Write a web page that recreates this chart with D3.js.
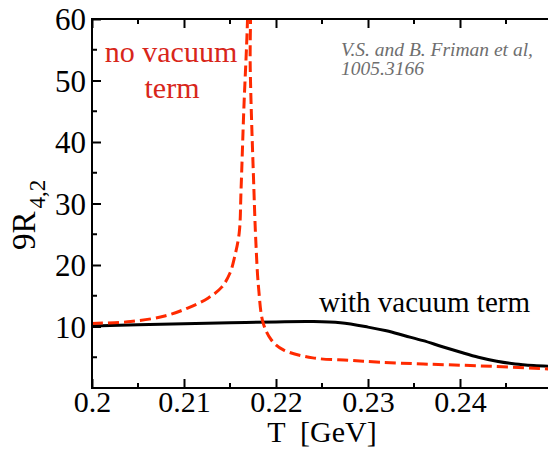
<!DOCTYPE html>
<html>
<head>
<meta charset="utf-8">
<script src="https://cdn.jsdelivr.net/npm/d3@7"></script>
</head>
<body style="margin:0">
<div class="chart"></div>
<script>
// curve with vacuum term (black, solid)
const withVacT = [0.2000, 0.2050, 0.2100, 0.2150, 0.2200, 0.2240, 0.2270, 0.2300, 0.2320, 0.2340, 0.2360, 0.2380, 0.2400, 0.2420, 0.2440, 0.2460, 0.2480, 0.2500]
const withVacV = [10.1, 10.3, 10.45, 10.6, 10.75, 10.8, 10.6, 9.9, 9.3, 8.5, 7.7, 6.75, 5.85, 5.0, 4.35, 3.9, 3.65, 3.5]

// curve without vacuum term (red, dashed) - diverges near T ~ 0.217
const noVacT = [0.2000, 0.2042, 0.2079, 0.2104, 0.2126, 0.2141, 0.2150, 0.2155, 0.2160, 0.2162, 0.2165, 0.2169, 0.21700,
                0.21712, 0.2172, 0.2176, 0.2178, 0.2181, 0.2186, 0.2195, 0.2208, 0.2240, 0.2280, 0.2313, 0.2360, 0.2422, 0.2496]
const noVacV = [10.5, 10.8, 11.7, 13.0, 14.6, 16.4, 18.7, 21.3, 25.2, 32.2, 45.2, 59.8, 70,
                70, 52, 32.2, 24.1, 16.4, 10.6, 7.8, 6.2, 4.9, 4.5, 4.2, 3.9, 3.6, 3.1]

const xTicks = [0.2, 0.21, 0.22, 0.23, 0.24]
const yTicks = [10, 20, 30, 40, 50, 60]

const width = 548
const height = 449
const margin = {left: 92, top: 19}
const plotW = 460
const plotH = 369

const svg = d3.select('.chart')
  .append('svg')
  .attr('width', width)
  .attr('height', height)

const x = d3.scaleLinear().domain([0.2, 0.25]).range([margin.left, margin.left + plotW])
const y = d3.scaleLinear().domain([0, 60]).range([margin.top + plotH, margin.top])

svg.append('clipPath').attr('id', 'clip')
  .append('rect')
  .attr('x', margin.left).attr('y', margin.top)
  .attr('width', plotW).attr('height', plotH)

const line = d3.line()
  .x(d => x(d[0]))
  .y(d => y(d[1]))
  .curve(d3.curveCatmullRom.alpha(0.5))

const plot = svg.append('g').attr('clip-path', 'url(#clip)')

plot.append('path')
  .datum(withVacT.map((t, i) => [t, withVacV[i]]))
  .attr('d', line)
  .attr('fill', 'none')
  .attr('stroke', '#000')
  .attr('stroke-width', 3)

plot.append('path')
  .datum(noVacT.map((t, i) => [t, noVacV[i]]))
  .attr('d', line)
  .attr('fill', 'none')
  .attr('stroke', '#ff2a00')
  .attr('stroke-width', 3)
  .attr('stroke-dasharray', '11,5')

// axes: ticks point inward, minor ticks without labels
const minorX = d3.range(0.205, 0.25, 0.01)
const minorY = d3.range(5, 60, 10)

const axBottom = svg.append('g').attr('transform', `translate(0,${margin.top + plotH})`)
axBottom.call(d3.axisBottom(x).tickValues(xTicks).tickSize(-9).tickFormat(d3.format('')))
axBottom.select('.domain').remove()
axBottom.selectAll('text').attr('font-size', 30).attr('fill', '#000').attr('y', 24).attr('dy', 0)
axBottom.selectAll('line').attr('stroke', '#000').attr('stroke-width', 2)

const axTop = svg.append('g').attr('transform', `translate(0,${margin.top})`)
axTop.call(d3.axisTop(x).tickValues(xTicks).tickSize(-9).tickFormat(''))
axTop.select('.domain').remove()
axTop.selectAll('line').attr('stroke', '#000').attr('stroke-width', 2)

const axLeft = svg.append('g').attr('transform', `translate(${margin.left},0)`)
axLeft.call(d3.axisLeft(y).tickValues(yTicks).tickSize(-9).tickFormat(d3.format('')))
axLeft.select('.domain').remove()
axLeft.selectAll('line').attr('stroke', '#000').attr('stroke-width', 2)
axLeft.selectAll('text').attr('font-size', 31).attr('fill', '#000').attr('x', -6).attr('dy', '0.35em')

// minor ticks
svg.selectAll('.minor-b').data(minorX).enter().append('line')
  .attr('x1', d => x(d)).attr('x2', d => x(d))
  .attr('y1', margin.top + plotH).attr('y2', margin.top + plotH - 5)
  .attr('stroke', '#000').attr('stroke-width', 2)
svg.selectAll('.minor-t').data(minorX).enter().append('line')
  .attr('x1', d => x(d)).attr('x2', d => x(d))
  .attr('y1', margin.top).attr('y2', margin.top + 5)
  .attr('stroke', '#000').attr('stroke-width', 2)
svg.selectAll('.minor-l').data(minorY).enter().append('line')
  .attr('x1', margin.left).attr('x2', margin.left + 5)
  .attr('y1', d => y(d)).attr('y2', d => y(d))
  .attr('stroke', '#000').attr('stroke-width', 2)

// frame
svg.append('rect')
  .attr('x', margin.left).attr('y', margin.top)
  .attr('width', plotW).attr('height', plotH)
  .attr('fill', 'none').attr('stroke', '#000').attr('stroke-width', 2)

// axis titles
svg.append('text')
  .attr('x', 322).attr('y', 442)
  .attr('text-anchor', 'middle')
  .attr('font-size', 30)
  .attr('xml:space', 'preserve')
  .text('T  [GeV]')

const yt = svg.append('text')
  .attr('transform', 'translate(35,250) rotate(-90)')
  .attr('font-size', 33)
yt.append('tspan').text('9R')
yt.append('tspan').attr('dy', 10).attr('dx', 3).attr('font-size', 23).text('4,2')

// labels
svg.append('text')
  .attr('x', 171).attr('y', 62)
  .attr('text-anchor', 'middle')
  .attr('font-size', 30)
  .attr('fill', '#d8261a')
  .text('no vacuum')
svg.append('text')
  .attr('x', 172).attr('y', 98)
  .attr('text-anchor', 'middle')
  .attr('font-size', 30)
  .attr('fill', '#d8261a')
  .text('term')

svg.append('text')
  .attr('x', 319).attr('y', 312)
  .attr('font-size', 29)
  .text('with vacuum term')

svg.append('text')
  .attr('x', 341).attr('y', 56)
  .attr('font-size', 19.5)
  .attr('font-style', 'italic')
  .attr('fill', '#6e6e6e')
  .text('V.S. and B. Friman et al,')
svg.append('text')
  .attr('x', 341).attr('y', 75)
  .attr('font-size', 19.5)
  .attr('font-style', 'italic')
  .attr('fill', '#6e6e6e')
  .text('1005.3166')

// every text in a Times-like serif
svg.selectAll('text').style('font-family', "'Liberation Serif', 'Times New Roman', Times, serif")
</script>
</body>
</html>
